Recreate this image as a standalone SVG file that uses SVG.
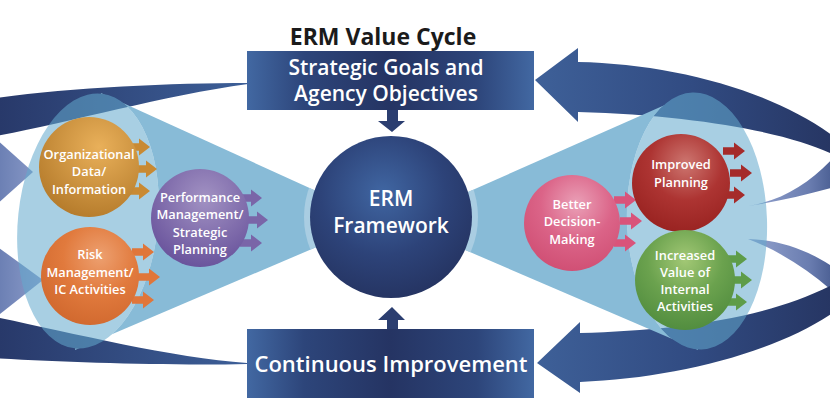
<svg xmlns="http://www.w3.org/2000/svg" xmlns:xlink="http://www.w3.org/1999/xlink" width="830" height="420" viewBox="0 0 830 420">
<style>
.t{font-family:"Open Sans","Liberation Sans",sans-serif;font-weight:600;fill:#fff;text-anchor:middle}
.bt{font-size:12.8px}
.hd{font-family:"Open Sans","Liberation Sans",sans-serif;font-weight:700;fill:#1b1b1b;text-anchor:middle;font-size:23px}
.box{fill:url(#boxG)}
.cone{fill:#88bbd7}
.ell{fill:rgb(98,168,205);fill-opacity:0.555}
</style>
<defs>
<linearGradient id="boxG" x1="0" y1="0" x2="1" y2="0">
<stop offset="0" stop-color="#4268a2"/><stop offset="0.2" stop-color="#2d457a"/><stop offset="0.5" stop-color="#253463"/><stop offset="0.8" stop-color="#2d457a"/><stop offset="1" stop-color="#4268a2"/>
</linearGradient>
<linearGradient id="bandTL" gradientUnits="userSpaceOnUse" x1="0" y1="0" x2="248" y2="0">
<stop offset="0" stop-color="#28396a"/><stop offset="1" stop-color="#3d5f98"/>
</linearGradient>
<linearGradient id="bandR" gradientUnits="userSpaceOnUse" x1="535" y1="0" x2="850" y2="0">
<stop offset="0" stop-color="#3e6098"/><stop offset="0.5" stop-color="#314b82"/><stop offset="1" stop-color="#25335f"/>
</linearGradient>
<linearGradient id="tailR" gradientUnits="userSpaceOnUse" x1="748" y1="0" x2="850" y2="0">
<stop offset="0" stop-color="#95a4cf"/><stop offset="0.6" stop-color="#6a7db0"/><stop offset="1" stop-color="#34497e"/>
</linearGradient>
<linearGradient id="headL" gradientUnits="userSpaceOnUse" x1="0" y1="0" x2="45" y2="0">
<stop offset="0" stop-color="#6c80b4"/><stop offset="1" stop-color="#8e9ecb"/>
</linearGradient>
<radialGradient id="ermG" cx="0.45" cy="0.35" r="0.7">
<stop offset="0" stop-color="#4066a2"/><stop offset="0.55" stop-color="#2d4379"/><stop offset="1" stop-color="#24325f"/>
</radialGradient>
<radialGradient id="gOrg" cx="0.6" cy="0.3" r="0.75"><stop offset="0" stop-color="#e9b05a"/><stop offset="1" stop-color="#b47a2a"/></radialGradient>
<radialGradient id="gRisk" cx="0.6" cy="0.3" r="0.75"><stop offset="0" stop-color="#eda070"/><stop offset="0.5" stop-color="#e17a3d"/><stop offset="1" stop-color="#d0682e"/></radialGradient>
<radialGradient id="gPerf" cx="0.55" cy="0.3" r="0.75"><stop offset="0" stop-color="#a292c3"/><stop offset="1" stop-color="#66509a"/></radialGradient>
<radialGradient id="gBet" cx="0.55" cy="0.3" r="0.75"><stop offset="0" stop-color="#eaa0b7"/><stop offset="0.5" stop-color="#db6488"/><stop offset="1" stop-color="#cf4d72"/></radialGradient>
<radialGradient id="gImp" cx="0.55" cy="0.3" r="0.75"><stop offset="0" stop-color="#cd7670"/><stop offset="0.5" stop-color="#ad3432"/><stop offset="1" stop-color="#97211f"/></radialGradient>
<radialGradient id="gInc" cx="0.5" cy="0.3" r="0.75"><stop offset="0" stop-color="#a2c875"/><stop offset="0.5" stop-color="#6ba24e"/><stop offset="1" stop-color="#4e8a3d"/></radialGradient>
<path id="sa" d="M0,-3.8 L11,-3.8 L11,-8.5 L22,0 L11,8.5 L11,3.8 L0,3.8 Z"/>
<mask id="noEll">
<rect x="0" y="0" width="830" height="420" fill="#fff"/>
<ellipse cx="88" cy="221" rx="70" ry="128" transform="rotate(6 88 221)" fill="#000"/>
<ellipse cx="697" cy="221" rx="70" ry="128.5" transform="rotate(-2 697 221)" fill="#000"/>
</mask>
<clipPath id="coneClip">
<polygon points="101,93 380,220 75,350"/>
<polygon points="692,93 400,222 698,350"/>
</clipPath>
</defs>

<g id="connectors">
<path d="M248,83 C170,83 60,88 -10,99 L-10,137 C60,125 160,96 248,84 Z" fill="url(#bandTL)"/>
<path d="M247,364 C170,366 60,362 -10,358 L-10,316 C60,330 170,358 247,363 Z" fill="url(#bandTL)"/>
<polygon points="-5,138 33,172 -5,206" fill="url(#headL)"/>
<polygon points="-5,245 43,280 -5,318" fill="url(#headL)"/>
<path d="M748,206 C785,200 815,180 840,150 L852,150 L852,182 C815,193 782,201 748,206 Z" fill="url(#tailR)"/>
<path d="M535,80 L578,48 L578,62 C680,64 790,95 850,150 L850,165 C820,140 720,116 578,112 L578,122 Z" fill="url(#bandR)"/>
<path d="M748,239 C790,240 825,258 852,282 L852,310 C825,282 790,255 748,239 Z" fill="url(#tailR)"/>
<path d="M537,363 L580,322 L580,333 C680,330 780,318 850,275 L850,300 C790,350 680,378 580,382 L580,393 Z" fill="url(#bandR)"/>
<path d="M387,110 L398,110 L398,121 L405,121 L392,132 L378,121 L387,121 Z" fill="#2b3e70"/>
<path d="M387,329 L398,329 L398,320 L405,320 L392,307 L378,320 L387,320 Z" fill="#2b3e70"/>
</g>

<g id="cones">
<g mask="url(#noEll)">
<polygon class="cone" points="101,93 380,220 75,350"/>
<polygon class="cone" points="692,93 400,222 698,350"/>
</g>
<ellipse class="ell" cx="88" cy="221" rx="70" ry="128" transform="rotate(6 88 221)"/>
<ellipse class="ell" cx="697" cy="221" rx="70" ry="128.5" transform="rotate(-2 697 221)"/>
</g>

<g id="erm">
<circle cx="391" cy="217" r="87" fill="#a9cde2" clip-path="url(#coneClip)"/>
<circle cx="391" cy="217" r="81" fill="url(#ermG)"/>
<text class="t" x="391" y="206" font-size="21">ERM</text>
<text class="t" x="391" y="233" font-size="21">Framework</text>
</g>

<g id="org">
<use href="#sa" x="128" y="147" fill="#c98a33"/>
<use href="#sa" x="135" y="169" fill="#c98a33"/>
<use href="#sa" x="128" y="191" fill="#c98a33"/>
<circle cx="89" cy="167" r="50" fill="url(#gOrg)"/>
<text class="t bt" x="89" y="159">Organizational</text>
<text class="t bt" x="89" y="176">Data/</text>
<text class="t bt" x="89" y="194">Information</text>
</g>

<g id="risk">
<use href="#sa" x="132" y="252" fill="#e0763a"/>
<use href="#sa" x="138" y="277" fill="#e0763a"/>
<use href="#sa" x="132" y="300" fill="#e0763a"/>
<circle cx="90" cy="276" r="49" fill="url(#gRisk)"/>
<text class="t bt" x="90" y="259">Risk</text>
<text class="t bt" x="90" y="277">Management/</text>
<text class="t bt" x="90" y="294">IC Activities</text>
</g>

<g id="perf">
<use href="#sa" x="240" y="198" fill="#7a65a8"/>
<use href="#sa" x="246" y="220" fill="#7a65a8"/>
<use href="#sa" x="240" y="243" fill="#7a65a8"/>
<circle cx="200" cy="218" r="49" fill="url(#gPerf)"/>
<text class="t bt" x="200" y="202">Performance</text>
<text class="t bt" x="200" y="219">Management/</text>
<text class="t bt" x="200" y="237">Strategic</text>
<text class="t bt" x="200" y="254">Planning</text>
</g>

<g id="better">
<use href="#sa" x="614" y="200" fill="#d9537a"/>
<use href="#sa" x="620" y="221" fill="#d9537a"/>
<use href="#sa" x="614" y="243" fill="#d9537a"/>
<circle cx="572" cy="223" r="48" fill="url(#gBet)"/>
<text class="t bt" x="572" y="209">Better</text>
<text class="t bt" x="572" y="226">Decision-</text>
<text class="t bt" x="572" y="244">Making</text>
</g>

<g id="improved">
<use href="#sa" x="723" y="151" fill="#a52b2a"/>
<use href="#sa" x="730" y="173" fill="#a52b2a"/>
<use href="#sa" x="723" y="195" fill="#a52b2a"/>
<circle cx="681" cy="183" r="49" fill="url(#gImp)"/>
<text class="t bt" x="681" y="169">Improved</text>
<text class="t bt" x="681" y="187">Planning</text>
</g>

<g id="increased">
<use href="#sa" x="725" y="259" fill="#5e9c48"/>
<use href="#sa" x="730" y="280" fill="#5e9c48"/>
<use href="#sa" x="725" y="302" fill="#5e9c48"/>
<circle cx="685" cy="280" r="50" fill="url(#gInc)"/>
<text class="t bt" x="685" y="260">Increased</text>
<text class="t bt" x="685" y="277">Value of</text>
<text class="t bt" x="685" y="294">Internal</text>
<text class="t bt" x="685" y="311">Activities</text>
</g>

<g id="title">
<text class="hd" x="383" y="45">ERM Value Cycle</text>
</g>

<g id="goals">
<rect class="box" x="247" y="51" width="287" height="59"/>
<text class="t" x="386" y="75" font-size="21">Strategic Goals and</text>
<text class="t" x="386" y="101" font-size="21">Agency Objectives</text>
</g>

<g id="improvement">
<rect class="box" x="247" y="329" width="287" height="69"/>
<text class="t" x="391" y="372" font-size="22">Continuous Improvement</text>
</g>
</svg>
